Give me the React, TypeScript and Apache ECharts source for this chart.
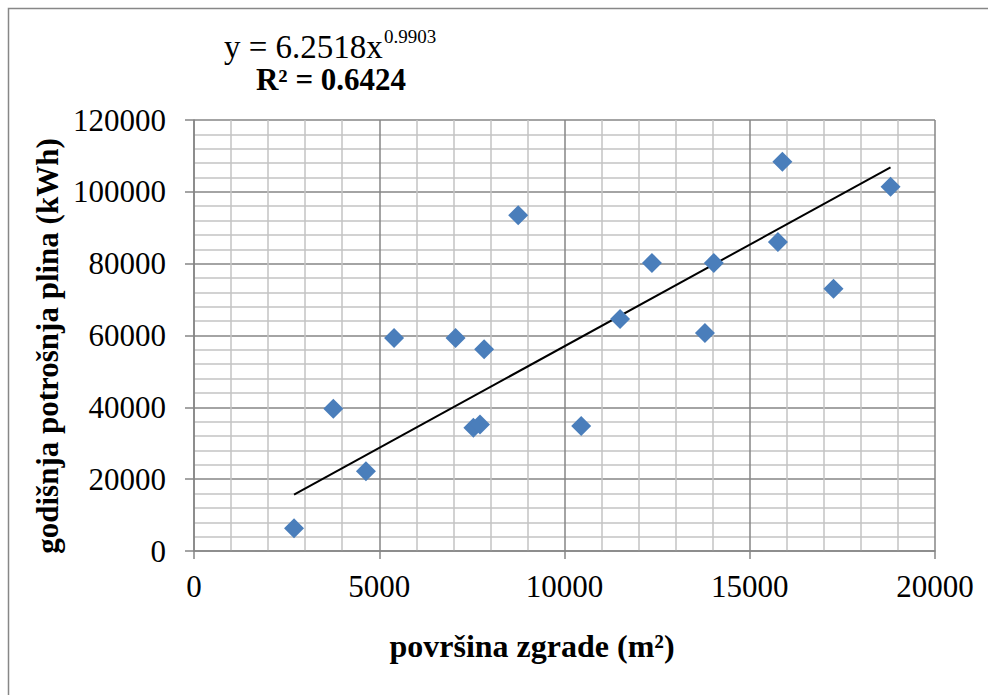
import React, { useEffect, useRef } from "react";
import * as echarts from "echarts";

// Building floor area (m²) and annual gas consumption (kWh)
const areas = [2700, 3760, 4640, 5400, 7060, 7830, 7540, 7720, 8750, 10450, 11500, 12360, 14030, 13790, 15760, 15880, 17260, 18800];
const gas = [6300, 39600, 22200, 59300, 59300, 56200, 34300, 35200, 93500, 34800, 64600, 80200, 80200, 60700, 86000, 108400, 73000, 101400];

// Power trendline end points as drawn (y = 6.2518x^0.9903)
const trendX = [2700, 18800];
const trendY = [15700, 106800];

const equationText = "y = 6.2518x";
const exponentText = "0.9903";
const r2Text = "R² = 0.6424";
const xTitle = "površina zgrade (m²)";
const yTitle = "godišnja potrošnja plina (kWh)";

const FONT = '"Liberation Serif", "Times New Roman", serif';
const MAJOR = "#868686";
const MINOR = "#c3c3c3";

export default function App() {
  const ref = useRef<HTMLDivElement>(null);

  useEffect(() => {
    if (!ref.current) return;
    const chart = echarts.init(ref.current, null, { renderer: "svg" });
    const points = areas.map((a, i) => [a, gas[i]]);
    const trend = trendX.map((x, i) => [x, trendY[i]]);

    chart.setOption({
      animation: false,
      backgroundColor: "#ffffff",
      grid: { left: 194, top: 120, width: 741, height: 431, containLabel: false },
      xAxis: {
        type: "value",
        min: 0,
        max: 20000,
        interval: 5000,
        axisLine: { show: true, lineStyle: { color: MAJOR, width: 1.5 } },
        axisTick: { show: true, inside: false, length: 8, lineStyle: { color: MAJOR, width: 1.5 } },
        axisLabel: {
          fontSize: 31,
          color: "#000",
          fontFamily: FONT,
          margin: 35,
          verticalAlign: "middle",
          formatter: (v: number) => String(v),
        },
        splitLine: { show: true, lineStyle: { color: MAJOR, width: 1.5 } },
        minorTick: { show: false, splitNumber: 5 },
        minorSplitLine: { show: true, lineStyle: { color: MINOR, width: 1.5 } },
      },
      yAxis: {
        type: "value",
        min: 0,
        max: 120000,
        interval: 20000,
        axisLine: { show: true, lineStyle: { color: MAJOR, width: 1.5 } },
        axisTick: { show: true, inside: false, length: 9, lineStyle: { color: MAJOR, width: 1.5 } },
        axisLabel: {
          fontSize: 31,
          color: "#000",
          fontFamily: FONT,
          margin: 28,
          formatter: (v: number) => String(v),
        },
        splitLine: { show: true, lineStyle: { color: MAJOR, width: 1.5 } },
        minorTick: { show: false, splitNumber: 5 },
        minorSplitLine: { show: true, lineStyle: { color: MINOR, width: 1.5 } },
      },
      series: [
        {
          type: "line",
          data: trend,
          showSymbol: false,
          symbol: "none",
          lineStyle: { color: "#000", width: 2 },
          z: 2,
          silent: true,
        },
        {
          type: "scatter",
          data: points,
          symbol: "diamond",
          symbolSize: 20,
          itemStyle: { color: "#4A7EBB", opacity: 1 },
          z: 3,
        },
      ],
      graphic: [
        {
          type: "rect",
          shape: { x: 8.5, y: 8.5, width: 1100, height: 1000 },
          style: { fill: "none", stroke: "#878787", lineWidth: 1.5 },
          silent: true,
        },
        {
          type: "text",
          x: 224,
          y: 47,
          style: { text: equationText, font: `33px ${FONT}`, fill: "#000", textAlign: "left", textVerticalAlign: "middle" },
        },
        {
          type: "text",
          x: 384,
          y: 36,
          style: { text: exponentText, font: `19px ${FONT}`, fill: "#000", textAlign: "left", textVerticalAlign: "middle" },
        },
        {
          type: "text",
          x: 331,
          y: 79,
          style: { text: r2Text, font: `bold 31px ${FONT}`, fill: "#000", textAlign: "center", textVerticalAlign: "middle" },
        },
        {
          type: "text",
          x: 532,
          y: 646,
          style: { text: xTitle, font: `bold 32px ${FONT}`, fill: "#000", textAlign: "center", textVerticalAlign: "middle" },
        },
        {
          type: "text",
          x: 47,
          y: 346,
          rotation: Math.PI / 2,
          style: { text: yTitle, font: `bold 31px ${FONT}`, fill: "#000", textAlign: "center", textVerticalAlign: "middle" },
        },
      ],
    });

    return () => chart.dispose();
  }, []);

  return (
    <div
      ref={ref}
      style={{ position: "fixed", left: 0, top: 0, width: 988, height: 695 }}
    />
  );
}
